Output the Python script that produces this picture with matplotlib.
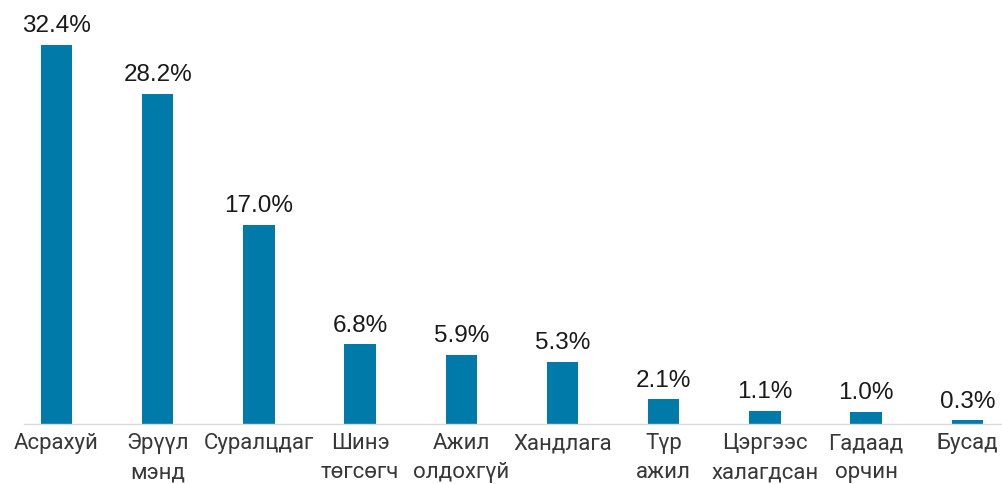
import matplotlib
matplotlib.use("Agg")
import matplotlib.pyplot as plt

categories = ["Асрахуй", "Эрүүл\nмэнд", "Суралцдаг", "Шинэ\nтөгсөгч", "Ажил\nолдохгүй",
              "Хандлага", "Түр\nажил", "Цэргээс\nхалагдсан", "Гадаад\nорчин", "Бусад"]
values = [32.4, 28.2, 17.0, 6.8, 5.9, 5.3, 2.1, 1.1, 1.0, 0.3]
value_labels = ["32.4%", "28.2%", "17.0%", "6.8%", "5.9%", "5.3%", "2.1%", "1.1%", "1.0%", "0.3%"]

W, H = 1002, 485
fig = plt.figure(figsize=(W / 100, H / 100), dpi=100)
left_px, right_px = 5.9, 1018.0
base_px, top_px = 425.0, 15.5
ax = fig.add_axes([left_px / W, (H - base_px) / H, (right_px - left_px) / W, (base_px - top_px) / H])

x = list(range(len(categories)))
ax.bar(x, values, width=0.31, color="#007AA8")
ax.set_xlim(-0.5, len(categories) - 0.5)
ax.set_ylim(0, 35)

for xi, v, lab in zip(x, values, value_labels):
    ax.annotate(lab, (xi, v), xytext=(0, 10), textcoords="offset points",
                ha="center", va="baseline", fontsize=17.5, family="Liberation Sans",
                color="#1a1a1a")

ax.set_xticks(x)
ax.set_xticklabels(categories, fontsize=16, family="Roboto", color="#383838",
                   linespacing=1.5)
ax.tick_params(axis="x", length=0, pad=6)
ax.set_yticks([])
for s in ["top", "right", "left"]:
    ax.spines[s].set_visible(False)
ax.spines["bottom"].set_color("#D9D9D9")
ax.spines["bottom"].set_linewidth(1.0)
ax.spines["bottom"].set_bounds(-0.32, 9.5)

fig.savefig("out.png", dpi=100)
